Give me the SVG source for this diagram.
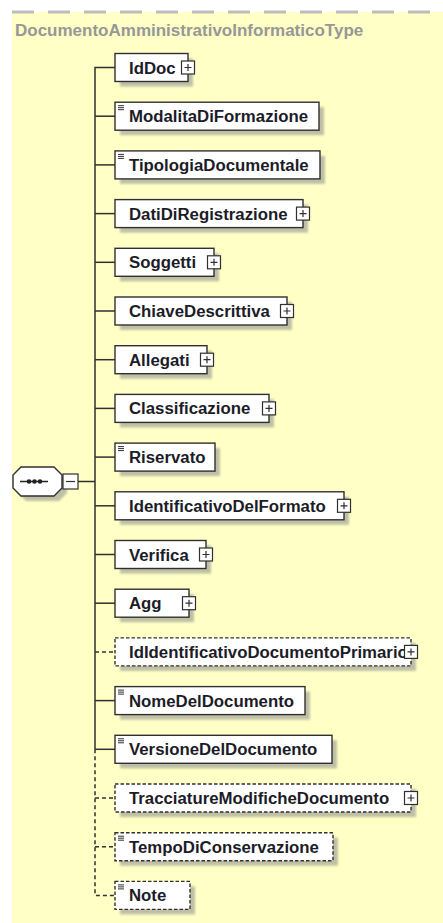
<svg xmlns="http://www.w3.org/2000/svg" width="443" height="923" viewBox="0 0 443 923">
<defs>
<filter id="blur" x="-10%" y="-20%" width="120%" height="140%"><feGaussianBlur stdDeviation="1.2"/></filter>
<style>
.bg{fill:#FFFFC6}
.frame{stroke:#bdbdbd;stroke-width:3;stroke-dasharray:22 14;fill:none}
.title{font-family:"Liberation Sans",Arial,sans-serif;font-weight:bold;font-size:17px;fill:#979797}
.sh{fill:#8c8c8c;opacity:.55;filter:url(#blur)}
.box{fill:#fff;stroke:#303030;stroke-width:1.4}
.opt{stroke-dasharray:3.5 2}
.lbl{font-family:"Liberation Sans",Arial,sans-serif;font-weight:bold;font-size:16.8px;fill:#1c1c28}
.ico{stroke:#303030;stroke-width:1;fill:none}
.pb{fill:#fff;stroke:#303030;stroke-width:1.2}
.pp{stroke:#303030;stroke-width:1.2;fill:none}
.ln{stroke:#303030;stroke-width:1.5;fill:none}
.dl{stroke:#303030;stroke-width:1.5;fill:none;stroke-dasharray:4 3}
</style>
</defs>
<rect class="bg" x="12" y="12" width="431" height="911"/>
<line class="frame" x1="12" y1="12" x2="443" y2="12"/>
<text class="title" x="15" y="36">DocumentoAmministrativoInformaticoType</text>

<g id="connectors">
<line class="ln" x1="78" y1="481.5" x2="95" y2="481.5"/>
<path class="ln" d="M115 67.5 H95 V749.3"/>
<path class="dl" d="M95 749.3 V895.4 H115"/>
<line class="ln" x1="95" y1="116.2" x2="115" y2="116.2"/>
<line class="ln" x1="95" y1="164.9" x2="115" y2="164.9"/>
<line class="ln" x1="95" y1="213.6" x2="115" y2="213.6"/>
<line class="ln" x1="95" y1="262.3" x2="115" y2="262.3"/>
<line class="ln" x1="95" y1="311.0" x2="115" y2="311.0"/>
<line class="ln" x1="95" y1="359.7" x2="115" y2="359.7"/>
<line class="ln" x1="95" y1="408.4" x2="115" y2="408.4"/>
<line class="ln" x1="95" y1="457.1" x2="115" y2="457.1"/>
<line class="ln" x1="95" y1="505.8" x2="115" y2="505.8"/>
<line class="ln" x1="95" y1="554.5" x2="115" y2="554.5"/>
<line class="ln" x1="95" y1="603.2" x2="115" y2="603.2"/>
<line class="dl" x1="95" y1="651.9" x2="115" y2="651.9"/>
<line class="ln" x1="95" y1="700.6" x2="115" y2="700.6"/>
<line class="ln" x1="95" y1="749.3" x2="115" y2="749.3"/>
<line class="dl" x1="95" y1="798.0" x2="115" y2="798.0"/>
<line class="dl" x1="95" y1="846.7" x2="115" y2="846.7"/>
</g>

<g id="sequence">
<polygon class="sh" points="26,472 59,472 67,480 67,493 59,501 26,501 18,493 18,480"/>
<polygon class="box" points="21,467 54,467 62,475 62,488 54,496 21,496 13,488 13,475"/>
<line x1="20" y1="481.5" x2="48" y2="481.5" stroke="#222" stroke-width="1.5"/>
<circle cx="29" cy="481.5" r="2.3" fill="#222"/>
<circle cx="34.5" cy="481.5" r="2.3" fill="#222"/>
<circle cx="40" cy="481.5" r="2.3" fill="#222"/>
<rect class="pb" x="63" y="474" width="15" height="15"/>
<line class="pp" x1="66" y1="481.5" x2="75" y2="481.5"/>
</g>

<g id="IdDoc" transform="translate(115,53.5)">
<rect class="sh" x="5" y="5" width="73" height="28"/><rect class="box" width="73" height="28"/>
<text class="lbl" x="14" y="20">IdDoc</text>
<rect class="pb" x="66.5" y="7.5" width="13" height="13"/><path class="pp" d="M69.5 14h7M73 10.5v7"/>
</g>
<g id="ModalitaDiFormazione" transform="translate(115,102.2)">
<rect class="sh" x="5" y="5" width="204" height="28"/><rect class="box" width="204" height="28"/>
<path class="ico" d="M3 3.5h6M3 5.5h6M3 7.5h6"/>
<text class="lbl" x="14" y="20">ModalitaDiFormazione</text>
</g>
<g id="TipologiaDocumentale" transform="translate(115,150.9)">
<rect class="sh" x="5" y="5" width="205" height="28"/><rect class="box" width="205" height="28"/>
<path class="ico" d="M3 3.5h6M3 5.5h6M3 7.5h6"/>
<text class="lbl" x="14" y="20">TipologiaDocumentale</text>
</g>
<g id="DatiDiRegistrazione" transform="translate(115,199.6)">
<rect class="sh" x="5" y="5" width="188" height="28"/><rect class="box" width="188" height="28"/>
<text class="lbl" x="14" y="20">DatiDiRegistrazione</text>
<rect class="pb" x="181.5" y="7.5" width="13" height="13"/><path class="pp" d="M184.5 14h7M188 10.5v7"/>
</g>
<g id="Soggetti" transform="translate(115,248.3)">
<rect class="sh" x="5" y="5" width="99" height="28"/><rect class="box" width="99" height="28"/>
<text class="lbl" x="14" y="20">Soggetti</text>
<rect class="pb" x="92.5" y="7.5" width="13" height="13"/><path class="pp" d="M95.5 14h7M99 10.5v7"/>
</g>
<g id="ChiaveDescrittiva" transform="translate(115,297.0)">
<rect class="sh" x="5" y="5" width="172" height="28"/><rect class="box" width="172" height="28"/>
<text class="lbl" x="14" y="20">ChiaveDescrittiva</text>
<rect class="pb" x="165.5" y="7.5" width="13" height="13"/><path class="pp" d="M168.5 14h7M172 10.5v7"/>
</g>
<g id="Allegati" transform="translate(115,345.7)">
<rect class="sh" x="5" y="5" width="92" height="28"/><rect class="box" width="92" height="28"/>
<text class="lbl" x="14" y="20">Allegati</text>
<rect class="pb" x="85.5" y="7.5" width="13" height="13"/><path class="pp" d="M88.5 14h7M92 10.5v7"/>
</g>
<g id="Classificazione" transform="translate(115,394.4)">
<rect class="sh" x="5" y="5" width="154" height="28"/><rect class="box" width="154" height="28"/>
<text class="lbl" x="14" y="20">Classificazione</text>
<rect class="pb" x="147.5" y="7.5" width="13" height="13"/><path class="pp" d="M150.5 14h7M154 10.5v7"/>
</g>
<g id="Riservato" transform="translate(115,443.1)">
<rect class="sh" x="5" y="5" width="100" height="28"/><rect class="box" width="100" height="28"/>
<path class="ico" d="M3 3.5h6M3 5.5h6M3 7.5h6"/>
<text class="lbl" x="14" y="20">Riservato</text>
</g>
<g id="IdentificativoDelFormato" transform="translate(115,491.8)">
<rect class="sh" x="5" y="5" width="229" height="28"/><rect class="box" width="229" height="28"/>
<text class="lbl" x="14" y="20">IdentificativoDelFormato</text>
<rect class="pb" x="222.5" y="7.5" width="13" height="13"/><path class="pp" d="M225.5 14h7M229 10.5v7"/>
</g>
<g id="Verifica" transform="translate(115,540.5)">
<rect class="sh" x="5" y="5" width="91" height="28"/><rect class="box" width="91" height="28"/>
<text class="lbl" x="14" y="20">Verifica</text>
<rect class="pb" x="84.5" y="7.5" width="13" height="13"/><path class="pp" d="M87.5 14h7M91 10.5v7"/>
</g>
<g id="Agg" transform="translate(115,589.2)">
<rect class="sh" x="5" y="5" width="74" height="28"/><rect class="box" width="74" height="28"/>
<text class="lbl" x="14" y="20">Agg</text>
<rect class="pb" x="67.5" y="7.5" width="13" height="13"/><path class="pp" d="M70.5 14h7M74 10.5v7"/>
</g>
<g id="IdIdentificativoDocumentoPrimario" transform="translate(115,637.9)">
<rect class="sh" x="5" y="5" width="296" height="28"/><rect class="box opt" width="296" height="28"/>
<text class="lbl" x="14" y="20">IdIdentificativoDocumentoPrimario</text>
<rect class="pb" x="289.5" y="7.5" width="13" height="13"/><path class="pp" d="M292.5 14h7M296 10.5v7"/>
</g>
<g id="NomeDelDocumento" transform="translate(115,686.6)">
<rect class="sh" x="5" y="5" width="190" height="28"/><rect class="box" width="190" height="28"/>
<path class="ico" d="M3 3.5h6M3 5.5h6M3 7.5h6"/>
<text class="lbl" x="14" y="20">NomeDelDocumento</text>
</g>
<g id="VersioneDelDocumento" transform="translate(115,735.3)">
<rect class="sh" x="5" y="5" width="217" height="28"/><rect class="box" width="217" height="28"/>
<path class="ico" d="M3 3.5h6M3 5.5h6M3 7.5h6"/>
<text class="lbl" x="14" y="20">VersioneDelDocumento</text>
</g>
<g id="TracciatureModificheDocumento" transform="translate(115,784.0)">
<rect class="sh" x="5" y="5" width="296" height="28"/><rect class="box opt" width="296" height="28"/>
<text class="lbl" x="14" y="20">TracciatureModificheDocumento</text>
<rect class="pb" x="289.5" y="7.5" width="13" height="13"/><path class="pp" d="M292.5 14h7M296 10.5v7"/>
</g>
<g id="TempoDiConservazione" transform="translate(115,832.7)">
<rect class="sh" x="5" y="5" width="218" height="28"/><rect class="box opt" width="218" height="28"/>
<path class="ico" d="M3 3.5h6M3 5.5h6M3 7.5h6"/>
<text class="lbl" x="14" y="20">TempoDiConservazione</text>
</g>
<g id="Note" transform="translate(115,881.4)">
<rect class="sh" x="5" y="5" width="75" height="28"/><rect class="box opt" width="75" height="28"/>
<path class="ico" d="M3 3.5h6M3 5.5h6M3 7.5h6"/>
<text class="lbl" x="14" y="20">Note</text>
</g>
</svg>
